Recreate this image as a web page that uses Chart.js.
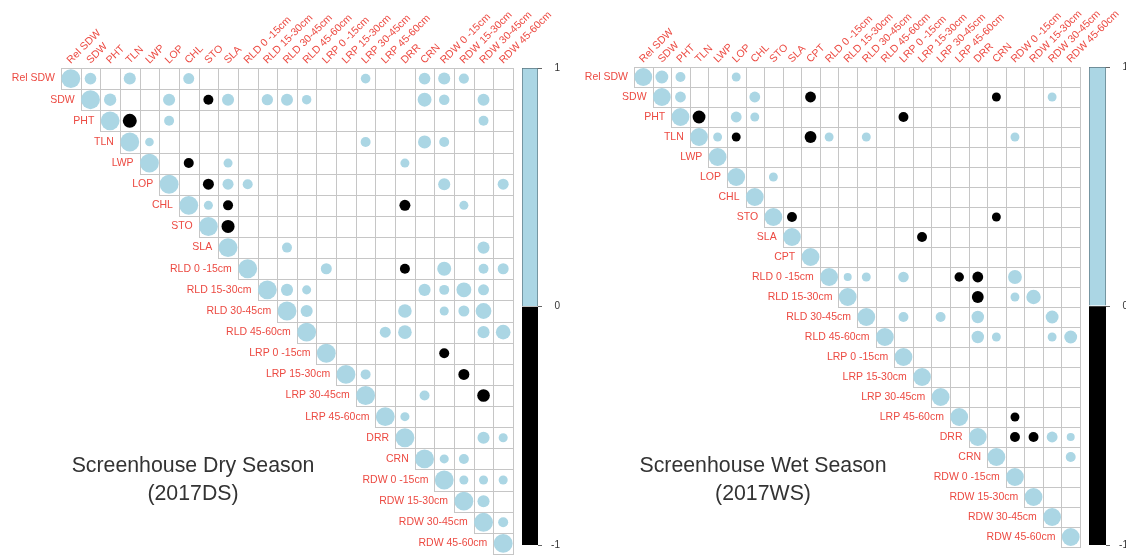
<!DOCTYPE html>
<html>
<head>
<meta charset="utf-8">
<title>Screenhouse correlations</title>
<script src="https://cdn.jsdelivr.net/npm/chart.js@4.4.1/dist/chart.umd.min.js"></script>
<style>
  html, body { margin: 0; padding: 0; background: #fff; overflow: hidden; }
  #page { position: relative; width: 1126px; height: 560px; overflow: hidden; }
  #page canvas { position: absolute; top: 0; }
  .title {
    position: absolute; width: 300px; text-align: center;
    font-family: "Liberation Sans", Arial, sans-serif; font-size: 21.3px;
    line-height: 28px; color: #333;
  }
</style>
</head>
<body>
<div id="page">
  <canvas id="dry-chart" width="560" height="560" style="left:0"></canvas>
  <canvas id="wet-chart" width="561" height="560" style="left:565px"></canvas>
  <canvas id="dry-legend" width="38" height="560" style="left:522px"></canvas>
  <canvas id="wet-legend" width="40" height="560" style="left:1089px"></canvas>
  <div class="title" style="left:43px;top:451px">Screenhouse Dry Season<br>(2017DS)</div>
  <div class="title" style="left:613px;top:451px">Screenhouse Wet Season<br>(2017WS)</div>
</div>
<script>
// Variables (order of rows / columns in each matrix)
const dryVars = ['Rel SDW', 'SDW', 'PHT', 'TLN', 'LWP', 'LOP', 'CHL', 'STO', 'SLA',
    'RLD 0 -15cm', 'RLD 15-30cm', 'RLD 30-45cm', 'RLD 45-60cm',
    'LRP 0 -15cm', 'LRP 15-30cm', 'LRP 30-45cm', 'LRP 45-60cm',
    'DRR', 'CRN', 'RDW 0 -15cm', 'RDW 15-30cm', 'RDW 30-45cm', 'RDW 45-60cm'];

const wetVars = ['Rel SDW', 'SDW', 'PHT', 'TLN', 'LWP', 'LOP', 'CHL', 'STO', 'SLA', 'CPT',
    'RLD 0 -15cm', 'RLD 15-30cm', 'RLD 30-45cm', 'RLD 45-60cm',
    'LRP 0 -15cm', 'LRP 15-30cm', 'LRP 30-45cm', 'LRP 45-60cm',
    'DRR', 'CRN', 'RDW 0 -15cm', 'RDW 15-30cm', 'RDW 30-45cm', 'RDW 45-60cm'];

// Significant correlations shown: [row, column, r] (upper triangle, diagonal = 1)
const dryCorr = [
    [0, 1, 0.38], [0, 3, 0.41], [0, 6, 0.34], [0, 15, 0.26], [0, 18, 0.38], [0, 19, 0.41], [0, 20, 0.29],
    [1, 2, 0.43], [1, 5, 0.41], [1, 7, -0.28], [1, 8, 0.41], [1, 10, 0.36], [1, 11, 0.40], [1, 12, 0.25],
    [1, 18, 0.54], [1, 19, 0.31], [1, 21, 0.40],
    [2, 3, -0.55], [2, 5, 0.28], [2, 21, 0.28],
    [3, 4, 0.21], [3, 15, 0.28], [3, 18, 0.48], [3, 19, 0.28],
    [4, 6, -0.28], [4, 8, 0.23], [4, 17, 0.23],
    [5, 7, -0.34], [5, 8, 0.34], [5, 9, 0.28], [5, 19, 0.41], [5, 22, 0.34],
    [6, 7, 0.23], [6, 8, -0.28], [6, 17, -0.34], [6, 20, 0.23],
    [7, 8, -0.48],
    [8, 11, 0.28], [8, 21, 0.41],
    [9, 13, 0.34], [9, 17, -0.28], [9, 19, 0.55], [9, 21, 0.28], [9, 22, 0.34],
    [10, 11, 0.41], [10, 12, 0.23], [10, 18, 0.41], [10, 19, 0.28], [10, 20, 0.62], [10, 21, 0.34],
    [11, 12, 0.41], [11, 17, 0.52], [11, 19, 0.23], [11, 20, 0.34], [11, 21, 0.70],
    [12, 16, 0.34], [12, 17, 0.52], [12, 21, 0.41], [12, 22, 0.60],
    [13, 19, -0.28],
    [14, 15, 0.28], [14, 20, -0.34],
    [15, 18, 0.28], [15, 21, -0.45],
    [16, 17, 0.23],
    [17, 21, 0.41], [17, 22, 0.23],
    [18, 19, 0.23], [18, 20, 0.28],
    [19, 20, 0.23], [19, 21, 0.23], [19, 22, 0.23],
    [20, 21, 0.41],
    [21, 22, 0.28]
];

const wetCorr = [
    [0, 1, 0.52], [0, 2, 0.31], [0, 5, 0.25],
    [1, 2, 0.37], [1, 6, 0.37], [1, 9, -0.37], [1, 19, -0.25], [1, 22, 0.25],
    [2, 3, -0.52], [2, 5, 0.37], [2, 6, 0.25], [2, 14, -0.31],
    [3, 4, 0.25], [3, 5, -0.25], [3, 9, -0.44], [3, 10, 0.25], [3, 12, 0.25], [3, 20, 0.25],
    [5, 7, 0.25],
    [7, 8, -0.31], [7, 19, -0.25],
    [8, 15, -0.31],
    [10, 11, 0.20], [10, 12, 0.25], [10, 14, 0.35], [10, 17, -0.28], [10, 18, -0.37], [10, 20, 0.60],
    [11, 18, -0.44], [11, 20, 0.25], [11, 21, 0.66],
    [12, 14, 0.31], [12, 16, 0.31], [12, 18, 0.49], [12, 22, 0.52],
    [13, 18, 0.49], [13, 19, 0.25], [13, 22, 0.25], [13, 23, 0.52],
    [17, 20, -0.25],
    [18, 20, -0.31], [18, 21, -0.31], [18, 22, 0.37], [18, 23, 0.20],
    [19, 23, 0.31]
];

// Colour legend ticks
const legendTicks = [-1, 0, 1];

const POS_COLOR = '#abd6e4';
const NEG_COLOR = '#000000';
const GRID_COLOR = '#c6c6c6';
const LABEL_COLOR = '#ec4a42';
const LABEL_FONT = '10.5px "Liberation Sans", Arial, sans-serif';

// Cell size in pixels
function cellSize(chart) {
    const { x, y } = chart.scales;
    if (!x || !y) return 0;
    const w = Math.abs(x.getPixelForValue(1) - x.getPixelForValue(0));
    const h = Math.abs(y.getPixelForValue(1) - y.getPixelForValue(0));
    const s = Math.min(w, h);
    return isFinite(s) ? s : 0;
}

// Draws the staircase grid and the red variable names
function makeGridPlugin(labels) {
    return {
        id: 'triangleGrid',
        beforeDatasetsDraw(chart) {
            const { ctx, scales: { x, y } } = chart;
            const n = labels.length;
            ctx.save();
            ctx.strokeStyle = GRID_COLOR;
            ctx.lineWidth = 1;
            for (let i = 0; i < n; i++) {
                for (let j = i; j < n; j++) {
                    const x0 = Math.round(x.getPixelForValue(j - 0.5)) + 0.5;
                    const x1 = Math.round(x.getPixelForValue(j + 0.5)) + 0.5;
                    const y0 = Math.round(y.getPixelForValue(i - 0.5)) + 0.5;
                    const y1 = Math.round(y.getPixelForValue(i + 0.5)) + 0.5;
                    ctx.strokeRect(x0, y0, x1 - x0, y1 - y0);
                }
            }
            ctx.restore();
        },
        afterDatasetsDraw(chart) {
            const { ctx, chartArea, scales: { x, y } } = chart;
            ctx.save();
            ctx.fillStyle = LABEL_COLOR;
            ctx.font = LABEL_FONT;
            labels.forEach((name, i) => {
                // row label, left of the diagonal cell
                ctx.textAlign = 'right';
                ctx.textBaseline = 'middle';
                ctx.fillText(name, x.getPixelForValue(i - 0.5) - 6, y.getPixelForValue(i));
                // column label, rotated above the grid
                ctx.save();
                ctx.translate(x.getPixelForValue(i), chartArea.top - 4);
                ctx.rotate(-Math.PI / 4);
                ctx.textAlign = 'left';
                ctx.textBaseline = 'alphabetic';
                ctx.fillText(name, 0, 0);
                ctx.restore();
            });
            ctx.restore();
        }
    };
}

function makeCorrChart(canvasId, labels, corr, pad) {
    const n = labels.length;
    const points = labels.map((_, i) => ({ x: i, y: i, v: 1 }))
        .concat(corr.map(([i, j, v]) => ({ x: j, y: i, v: v })));

    return new Chart(document.getElementById(canvasId), {
        type: 'scatter',
        data: {
            datasets: [{
                data: points,
                pointBackgroundColor: c => (c.raw && c.raw.v < 0) ? NEG_COLOR : POS_COLOR,
                pointBorderWidth: 0,
                pointRadius: c => c.raw ? 0.48 * cellSize(c.chart) * Math.sqrt(Math.abs(c.raw.v)) : 0,
                pointHoverRadius: c => c.raw ? 0.48 * cellSize(c.chart) * Math.sqrt(Math.abs(c.raw.v)) : 0,
                clip: false
            }]
        },
        options: {
            responsive: false,
            animation: false,
            events: [],
            layout: { padding: pad },
            plugins: { legend: { display: false }, tooltip: { enabled: false } },
            scales: {
                x: { type: 'linear', min: -0.5, max: n - 0.5, display: false },
                y: { type: 'linear', min: -0.5, max: n - 0.5, reverse: true, display: false }
            }
        },
        plugins: [makeGridPlugin(labels)]
    });
}

function makeLegend(canvasId, pad) {
    return new Chart(document.getElementById(canvasId), {
        type: 'bar',
        data: {
            labels: [''],
            datasets: [
                { data: [legendTicks[2]], backgroundColor: POS_COLOR, borderColor: '#5b7680', borderWidth: 1 },
                { data: [legendTicks[0]], backgroundColor: NEG_COLOR, borderWidth: 0 }
            ]
        },
        options: {
            responsive: false,
            animation: false,
            events: [],
            layout: { padding: pad },
            datasets: { bar: { barPercentage: 1, categoryPercentage: 1 } },
            plugins: { legend: { display: false }, tooltip: { enabled: false } },
            scales: {
                x: { display: false, stacked: true },
                y: {
                    position: 'right',
                    stacked: true,
                    min: legendTicks[0],
                    max: legendTicks[2],
                    afterBuildTicks: s => { s.ticks = legendTicks.map(v => ({ value: v })); },
                    afterFit: s => { s.width = 22; },
                    border: { display: false },
                    grid: { drawOnChartArea: false, tickLength: 4, color: '#666' },
                    ticks: {
                        padding: 9,
                        crossAlign: 'far',
                        color: '#333',
                        font: { family: '"Liberation Sans", Arial, sans-serif', size: 10 }
                    }
                }
            }
        }
    });
}

makeCorrChart('dry-chart', dryVars, dryCorr, { left: 61, top: 68, right: 47, bottom: 6 });
makeCorrChart('wet-chart', wetVars, wetCorr, { left: 69, top: 67, right: 46, bottom: 13 });
makeLegend('dry-legend', { left: 0, right: 0, top: 68, bottom: 6 });
makeLegend('wet-legend', { left: 0, right: 1, top: 67, bottom: 13 });
</script>
</body>
</html>
